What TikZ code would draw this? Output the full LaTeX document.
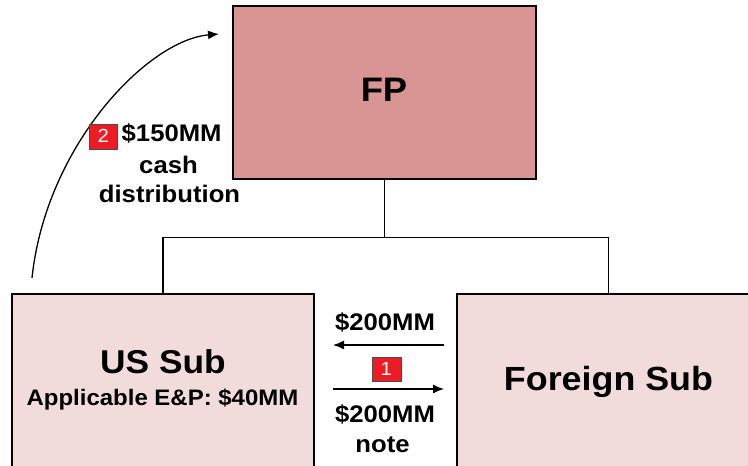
\documentclass[tikz,border=0pt]{standalone}
\usepackage{fontspec}
\setmainfont[FakeStretch=1.07]{Liberation Sans}
\usetikzlibrary{positioning,arrows.meta}
\definecolor{parentred}{RGB}{217,148,148}
\definecolor{subpink}{RGB}{242,219,219}
\definecolor{badgered}{RGB}{237,28,36}

\begin{document}
\begin{tikzpicture}[x=1pt,y=-1pt,>={Latex[length=11pt,width=9pt]},
		entity/.style={draw,line width=1.4pt,inner sep=0pt},
		badge/.style={draw=black!70,fill=badgered,text=white,font=\fontsize{19}{19}\selectfont,
			minimum width=28pt,minimum height=25pt,inner sep=0pt},
		lbl/.style={font=\fontsize{24}{24}\selectfont\bfseries,anchor=base,inner sep=0pt},
		flow/.style={->,line width=1.3pt}]
		\useasboundingbox (0,0) rectangle (748,466);
		\node[entity,fill=parentred,minimum width=303pt,minimum height=173pt] (fp) at (384.5,92.5) {};
		\node[entity,fill=subpink,minimum width=302pt,minimum height=176pt] (us) at (163,382) {};
		\node[entity,fill=subpink,minimum width=303pt,minimum height=176pt] (fs) at (608.5,382) {};
		\node[lbl,font=\fontsize{34}{34}\selectfont\bfseries] (fpname) at (384,101.7) {FP};
		\node[lbl,font=\fontsize{33}{33}\selectfont\bfseries] (usname) at (163,373) {US Sub};
		\node[lbl,font=\fontsize{22.4}{22.4}\selectfont\bfseries] (usep) at (162.5,405.7) {Applicable E\&P: \$40MM};
		\node[lbl,font=\fontsize{33.5}{33.5}\selectfont\bfseries] (fsname) at (608.5,390) {Foreign Sub};
		\draw[line width=1.2pt] (fp.south) -- ++(0,58) coordinate (j);
		\draw[line width=1.2pt] (us.north) |- (j) -| (fs.north);
		% distribution back up to FP
		\coordinate (d0) at (32,278);
		\coordinate (d1) at (219,34);
		\draw[flow] (d0) .. controls (46,145) and (148,40) .. (d1);
		\node[badge] (b2) at (103.3,136.2) {2};
		\node[lbl,anchor=base west] (amt2) at (121.5,141.7) {\$150MM};
		\node[lbl] (txt2a) at (168.5,173) {cash};
		\node[lbl] (txt2b) at (169.5,202.7) {distribution};
		% note for cash swap
		\coordinate (a0) at (444,345);
		\coordinate (a1) at (333,345);
		\coordinate (c0) at (333,389);
		\coordinate (c1) at (444,389);
		\draw[flow] (a0) -- (a1);
		\draw[flow] (c0) -- (c1);
		\node[lbl] (cash1) at (385,330) {\$200MM};
		\node[badge,minimum width=29pt,minimum height=24pt] (b1) at (386.3,369) {1};
		\node[lbl] (note1a) at (385,422.7) {\$200MM};
		\node[lbl] (note1b) at (382.5,452.7) {note};
	\end{tikzpicture}
\end{document}
